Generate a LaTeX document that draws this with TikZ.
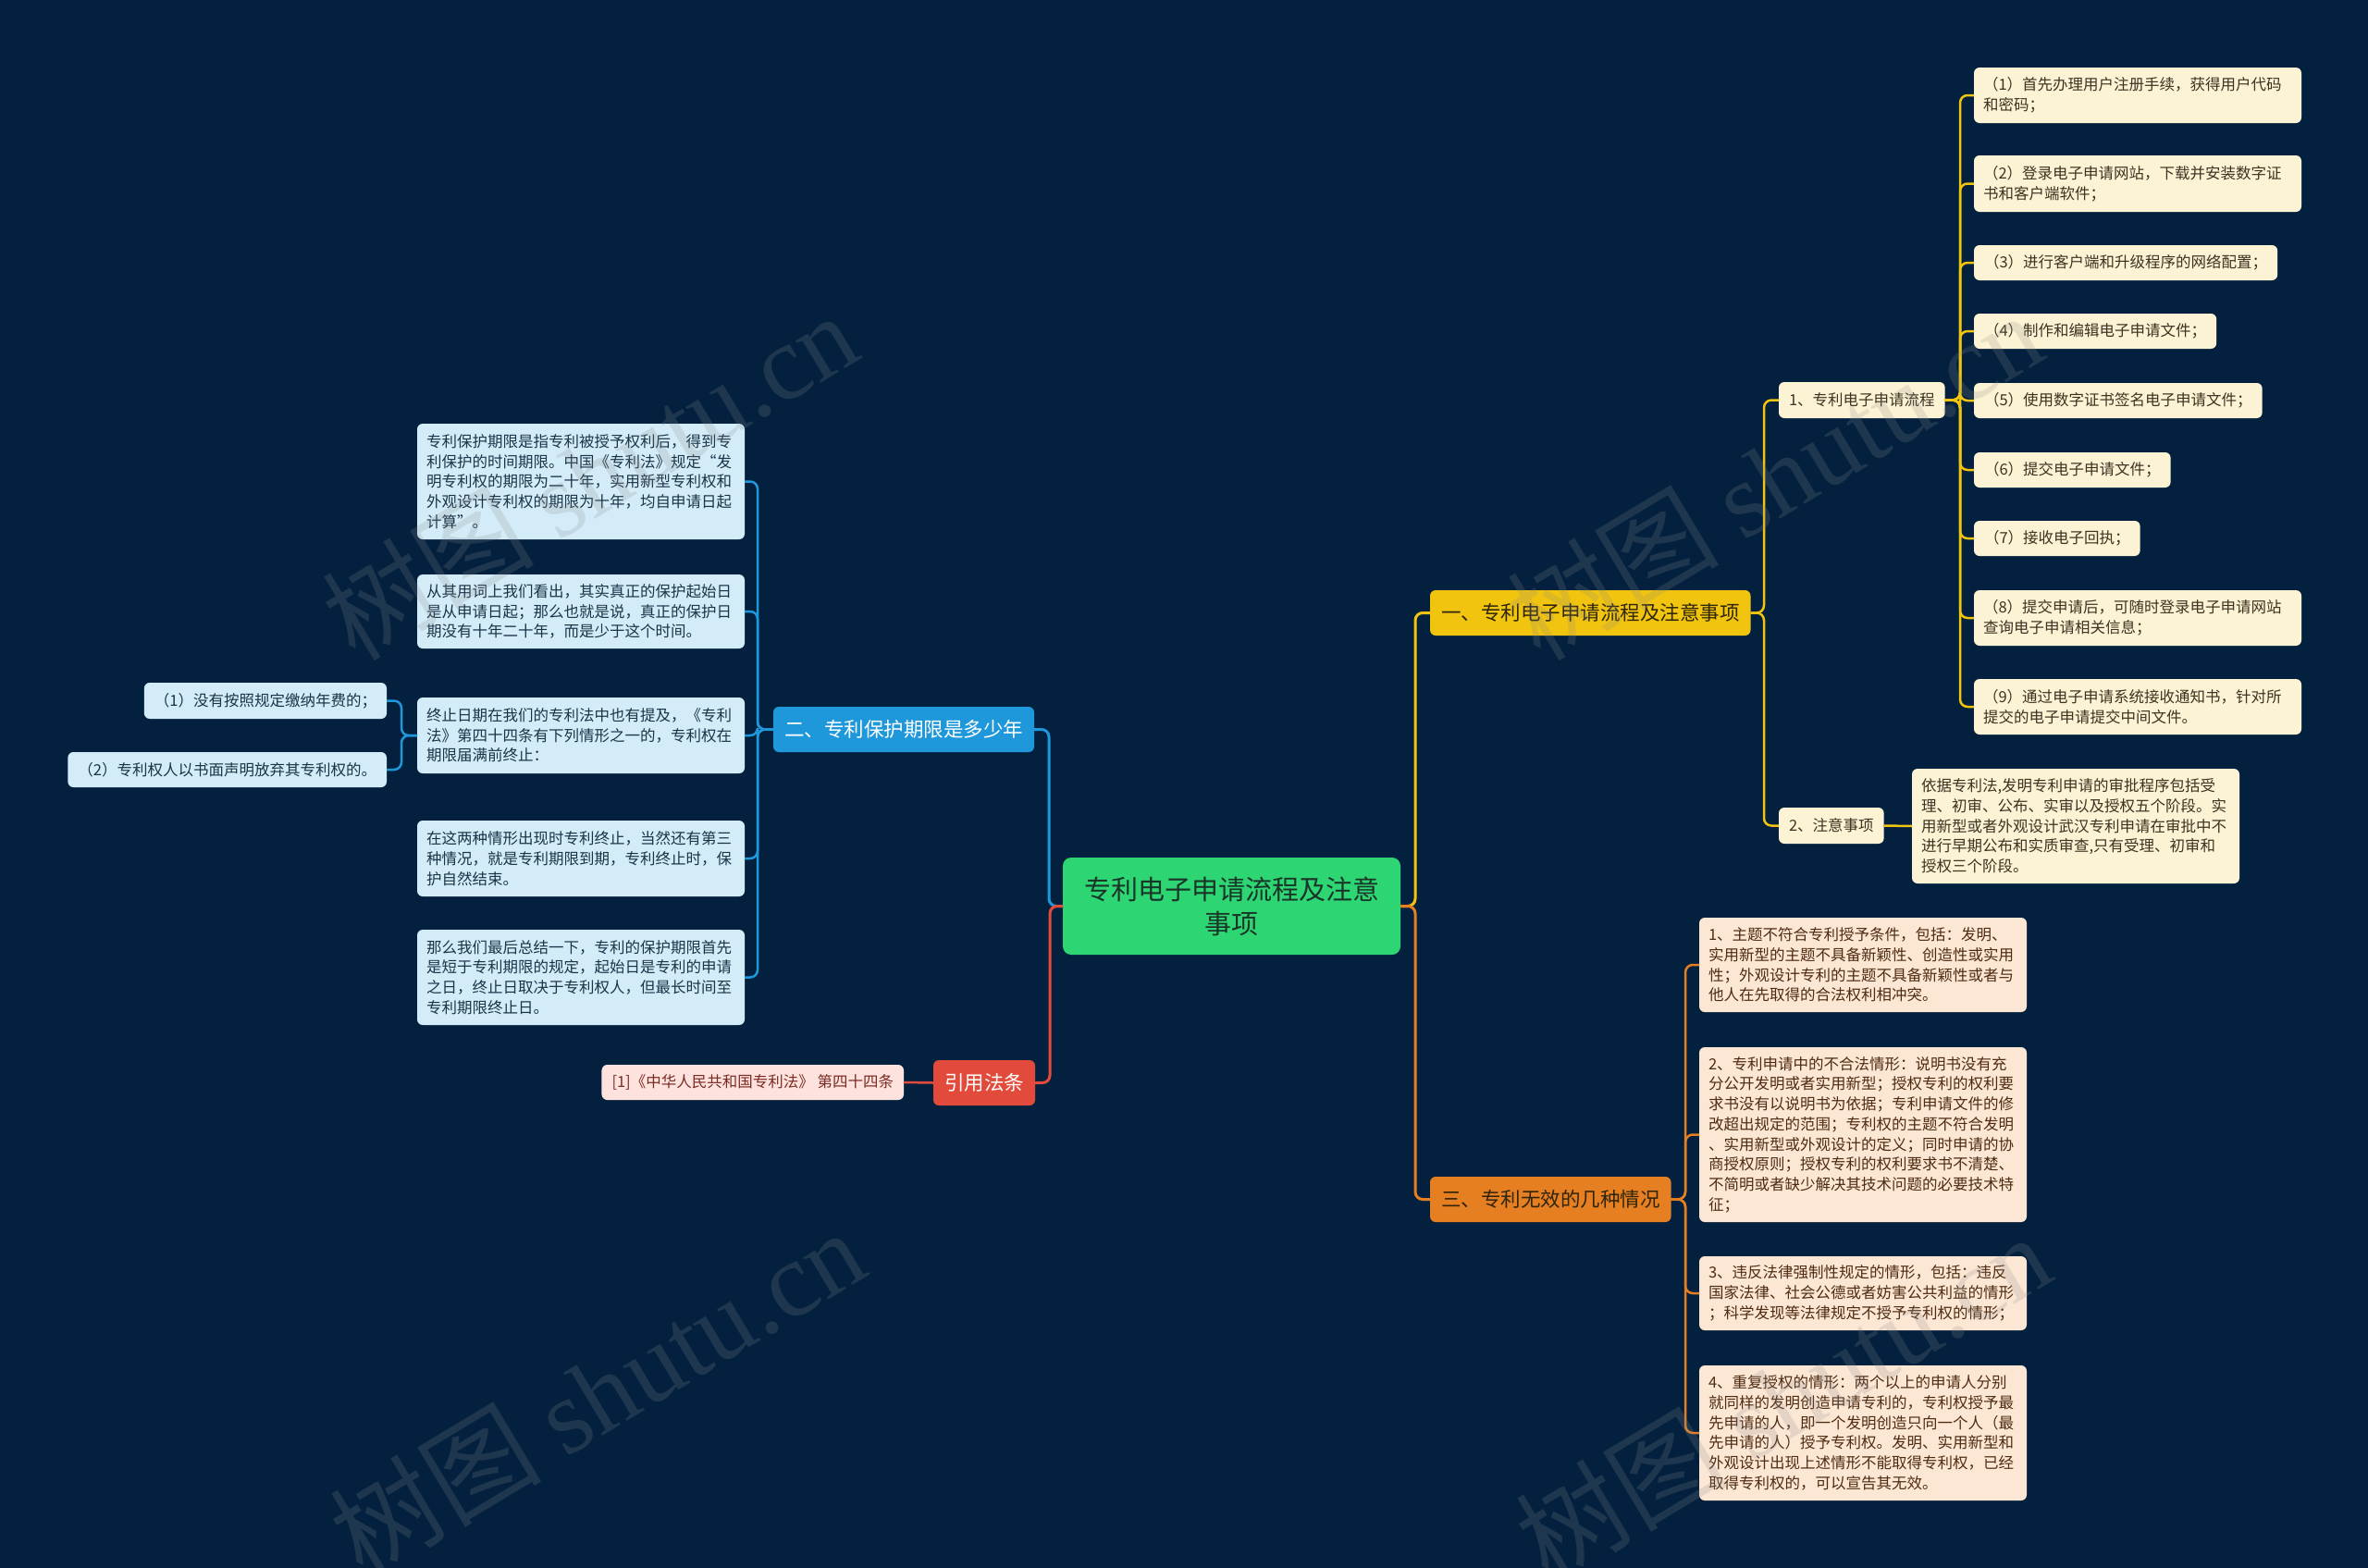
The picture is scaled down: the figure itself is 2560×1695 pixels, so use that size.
\documentclass[tikz,border=0pt]{standalone}
\usepackage{fontspec}
\setmainfont{Noto Sans CJK SC}
\newfontfamily\wmlat{Liberation Serif}
\usetikzlibrary{calc}
\definecolor{bgc}{HTML}{03213F}
\definecolor{cyel}{HTML}{F1C40F}
\definecolor{corg}{HTML}{E67E22}
\definecolor{cblu}{HTML}{1F98DB}
\definecolor{cred}{HTML}{E24B3B}
\definecolor{cgrn}{HTML}{2ED573}
\definecolor{fY}{HTML}{FCF3D4}
\definecolor{fO}{HTML}{FCE6D4}
\definecolor{fB}{HTML}{D3ECF8}
\definecolor{fR}{HTML}{FDE2DE}
\definecolor{tY}{HTML}{3B3422}
\definecolor{tO}{HTML}{4E2C12}
\definecolor{tB}{HTML}{1C3448}
\definecolor{tR}{HTML}{7B2B22}
\definecolor{tRoot}{HTML}{183528}
\definecolor{tBr}{HTML}{2E250A}
\definecolor{wmc}{HTML}{8A8A8A}
\begin{document}
\begin{tikzpicture}[x=1pt,y=-1pt,
  base/.style={rounded corners=6pt, inner ysep=0pt, outer sep=0pt, anchor=north west},
  lf/.style={base, inner xsep=11pt, minimum height=38pt, font=\fontsize{16.5}{21.7}\selectfont},
  wide/.style={lf, inner xsep=10pt, text width=334pt, align=left, minimum width=354pt},
  br/.style={base, inner xsep=12pt, minimum height=49pt, font=\fontsize{21.5}{26}\selectfont},
  lfY/.style={lf, fill=fY, text=tY},
  lfO/.style={lf, fill=fO, text=tO},
  lfB/.style={lf, fill=fB, text=tB},
  lfR/.style={lf, fill=fR, text=tR},
  wY/.style={wide, fill=fY, text=tY},
  wO/.style={wide, fill=fO, text=tO},
  wB/.style={wide, fill=fB, text=tB},
  conY/.style={draw=cyel, line width=2.5pt, rounded corners=8pt},
  conO/.style={draw=corg, line width=2.5pt, rounded corners=8pt},
  conB/.style={draw=cblu, line width=2.5pt, rounded corners=8pt},
  conR/.style={draw=cred, line width=2.5pt, rounded corners=8pt},
  wm/.style={rotate=31, text=wmc, opacity=0.2, font=\fontsize{115}{115}\selectfont}
]
\fill[bgc] (0,0) rectangle (2560,1695);
\useasboundingbox (0,0) rectangle (2560,1695);

% root
\node[base, fill=cgrn, text=tRoot, minimum width=365pt, minimum height=105pt, align=center,
  font=\fontsize{29}{37}\selectfont, rounded corners=9pt] (root) at (1149,927)
  {专利电子申请流程及注意\\事项};

% branches
\node[br, fill=cyel, text=tBr] (b1) at (1546,638) {一、专利电子申请流程及注意事项};
\node[br, fill=corg, text=tBr] (b3) at (1546,1272) {三、专利无效的几种情况};
\node[br, fill=cblu, text=white] (b2) at (836,764) {二、专利保护期限是多少年};
\node[br, fill=cred, text=white] (r) at (1009,1146) {引用法条};

% branch 1 subtree
\node[lfY, minimum height=39pt] (s1) at (1923,413) {1、专利电子申请流程};
\node[lfY, minimum height=39pt] (s2) at (1923,873) {2、注意事项};

\node[wY, minimum height=60pt] (a1) at (2134,73) {（1）首先办理用户注册手续，获得用户代码\\和密码；};
\node[wY, minimum height=61pt] (a2) at (2134,168) {（2）登录电子申请网站，下载并安装数字证\\书和客户端软件；};
\node[lfY] (a3) at (2134,265) {（3）进行客户端和升级程序的网络配置；};
\node[lfY] (a4) at (2134,339) {（4）制作和编辑电子申请文件；};
\node[lfY] (a5) at (2134,414) {（5）使用数字证书签名电子申请文件；};
\node[lfY] (a6) at (2134,489) {（6）提交电子申请文件；};
\node[lfY] (a7) at (2134,563) {（7）接收电子回执；};
\node[wY, minimum height=60pt] (a8) at (2134,638) {（8）提交申请后，可随时登录电子申请网站\\查询电子申请相关信息；};
\node[wY, minimum height=60pt] (a9) at (2134,734) {（9）通过电子申请系统接收通知书，针对所\\提交的电子申请提交中间文件。};

\node[wY, minimum height=124pt] (n1) at (2067,831) {依据专利法,发明专利申请的审批程序包括受\\理、初审、公布、实审以及授权五个阶段。实\\用新型或者外观设计武汉专利申请在审批中不\\进行早期公布和实质审查,只有受理、初审和\\授权三个阶段。};

% branch 3 subtree
\node[wO, minimum height=102pt] (d1) at (1837,992) {1、主题不符合专利授予条件，包括：发明、\\实用新型的主题不具备新颖性、创造性或实用\\性；外观设计专利的主题不具备新颖性或者与\\他人在先取得的合法权利相冲突。};
\node[wO, minimum height=189pt] (d2) at (1837,1132) {2、专利申请中的不合法情形：说明书没有充\\分公开发明或者实用新型；授权专利的权利要\\求书没有以说明书为依据；专利申请文件的修\\改超出规定的范围；专利权的主题不符合发明\\、实用新型或外观设计的定义；同时申请的协\\商授权原则；授权专利的权利要求书不清楚、\\不简明或者缺少解决其技术问题的必要技术特\\征；};
\node[wO, minimum height=80pt] (d3) at (1837,1358) {3、违反法律强制性规定的情形，包括：违反\\国家法律、社会公德或者妨害公共利益的情形\\；科学发现等法律规定不授予专利权的情形；};
\node[wO, minimum height=146pt] (d4) at (1837,1476) {4、重复授权的情形：两个以上的申请人分别\\就同样的发明创造申请专利的，专利权授予最\\先申请的人，即一个发明创造只向一个人（最\\先申请的人）授予专利权。发明、实用新型和\\外观设计出现上述情形不能取得专利权，已经\\取得专利权的，可以宣告其无效。};

% branch 2 subtree
\node[wB, minimum height=125pt] (e1) at (451,458) {专利保护期限是指专利被授予权利后，得到专\\利保护的时间期限。中国《专利法》规定“发\\明专利权的期限为二十年，实用新型专利权和\\外观设计专利权的期限为十年，均自申请日起\\计算”。};
\node[wB, minimum height=80pt] (e2) at (451,621) {从其用词上我们看出，其实真正的保护起始日\\是从申请日起；那么也就是说，真正的保护日\\期没有十年二十年，而是少于这个时间。};
\node[wB, minimum height=82pt] (e3) at (451,754) {终止日期在我们的专利法中也有提及，《专利\\法》第四十四条有下列情形之一的，专利权在\\期限届满前终止：};
\node[wB, minimum height=82pt] (e4) at (451,887) {在这两种情形出现时专利终止，当然还有第三\\种情况，就是专利期限到期，专利终止时，保\\护自然结束。};
\node[wB, minimum height=103pt] (e5) at (451,1005) {那么我们最后总结一下，专利的保护期限首先\\是短于专利期限的规定，起始日是专利的申请\\之日，终止日取决于专利权人，但最长时间至\\专利期限终止日。};

\node[lfB, anchor=north east, minimum height=39pt] (c1) at (418,738) {（1）没有按照规定缴纳年费的；};
\node[lfB, anchor=north east] (c2) at (418,813) {（2）专利权人以书面声明放弃其专利权的。};

% reference leaf
\node[lfR, anchor=north east] (rl) at (977,1151) {[1]《中华人民共和国专利法》 第四十四条};

% connectors right side
\draw[conY, line width=3pt] (root.east) -| ($(b1.west)+(-16,0)$) -- (b1.west);
\draw[conO, line width=3pt] (root.east) -| ($(b3.west)+(-16,0)$) -- (b3.west);
\foreach \c in {s1,s2}
  \draw[conY] (b1.east) -| ($(\c.west)+(-16,0)$) -- (\c.west);
\foreach \c in {a1,a2,a3,a4,a5,a6,a7,a8,a9}
  \draw[conY] (s1.east) -| ($(\c.west)+(-15,0)$) -- (\c.west);
\draw[conY] (s2.east) -- (n1.west);
\foreach \c in {d1,d2,d3,d4}
  \draw[conO] (b3.east) -| ($(\c.west)+(-15,0)$) -- (\c.west);

% connectors left side
\draw[conB, line width=3pt] (root.west) -| ($(b2.east)+(16,0)$) -- (b2.east);
\draw[conR, line width=3pt] (root.west) -| ($(r.east)+(16,0)$) -- (r.east);
\foreach \c in {e1,e2,e3,e4,e5}
  \draw[conB] (b2.west) -| ($(\c.east)+(14,0)$) -- (\c.east);
\foreach \c in {c1,c2}
  \draw[conB] (e3.west) -| ($(\c.east)+(16,0)$) -- (\c.east);
\draw[conR] (r.west) -- (rl.east);

% watermarks
\node[wm] (w1) at (637,514) {树图 {\wmlat shutu.cn}};
\node[wm] (w2) at (645,1505) {树图 {\wmlat shutu.cn}};
\node[wm] (w3) at (1918,514) {树图 {\wmlat shutu.cn}};
\node[wm] (w4) at (1927,1510) {树图 {\wmlat shutu.cn}};
\end{tikzpicture}
\end{document}
